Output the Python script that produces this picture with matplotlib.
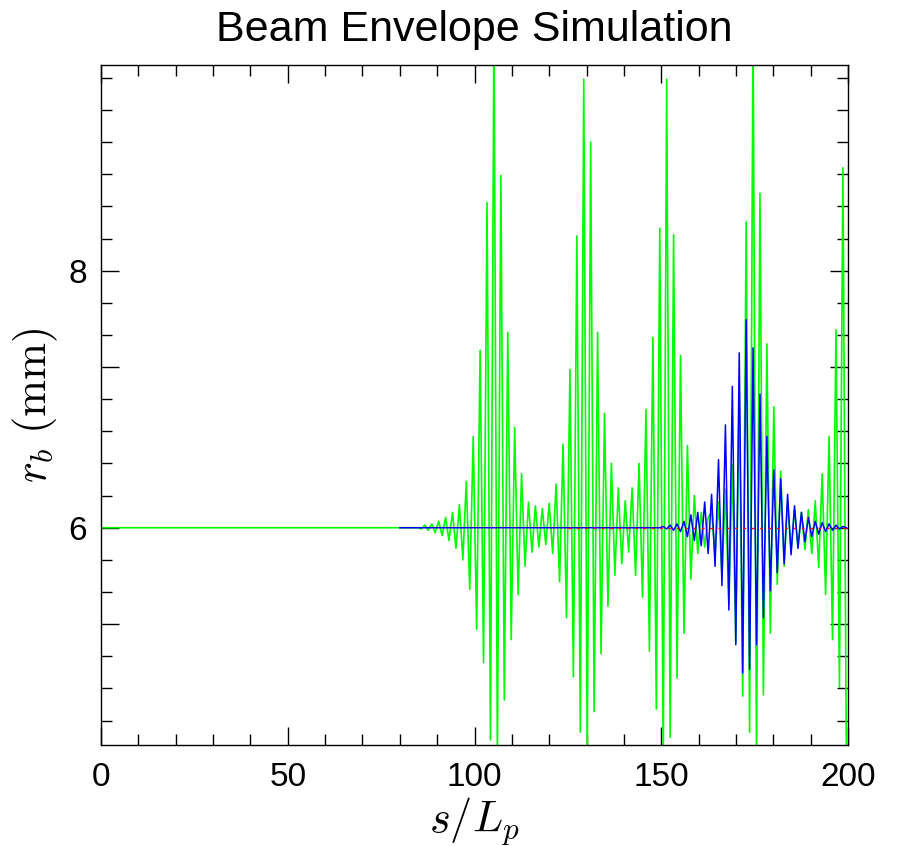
"""Beam envelope r_b(s) for three runs, IDL-style presentation plot."""

from __future__ import annotations

import numpy as np
import matplotlib

matplotlib.use("Agg")
import matplotlib.pyplot as plt
from matplotlib.ticker import FixedLocator, MultipleLocator

_DPI = 100
_FIGSIZE = (8.97, 8.46)

# Sample grid of the envelope runs (one stroke per half mismatch period).
GRID_START = 84.85
GRID_STEP = 0.925

# green run: flat at r_b = 6 mm until the grid starts, then one value per sample
green_flat_s = [0.0]
green_flat_r = [6.0]
green_r = [
    6.00, 5.99, 6.02, 5.98, 6.03, 5.96, 6.05, 5.94, 6.08, 5.90,   # k 0-9
    6.12, 5.84, 6.18, 5.75, 6.36, 5.52, 6.71, 5.21, 7.38, 4.95,   # k 10-19
    8.53, 4.35, 9.90, 4.20, 8.74, 4.66, 7.52, 5.13, 6.78, 5.48,   # k 20-29
    6.42, 5.70, 6.20, 5.81, 6.17, 5.85, 6.15, 5.87, 6.19, 5.80,   # k 30-39
    6.34, 5.58, 6.65, 5.30, 7.23, 4.84, 8.27, 4.41, 9.49, 4.20,   # k 40-49
    9.00, 4.57, 7.52, 5.02, 6.89, 5.39, 6.50, 5.63, 6.31, 5.72,   # k 50-59
    6.21, 5.81, 6.31, 5.63, 6.50, 5.46, 6.92, 5.04, 7.48, 4.59,   # k 60-69
    8.33, 4.20, 9.49, 4.37, 8.28, 4.83, 7.34, 5.18, 6.64, 5.60,   # k 70-79
    6.25, 5.80, 6.12, 5.85, 6.08, 6.12, 5.80, 6.20, 5.62, 6.30,   # k 80-89
    5.40, 6.49, 5.11, 7.06, 4.69, 8.38, 4.41, 9.90, 4.20, 8.60,   # k 90-99
    4.70, 7.43, 5.18, 6.94, 5.56, 6.44, 5.70, 6.20, 5.82, 6.14,   # k 100-109
    5.85, 6.12, 5.83, 6.14, 5.80, 6.21, 5.69, 6.42, 5.48, 6.71,   # k 110-119
    5.13, 7.54, 4.76, 8.80, 4.20,                                 # k 120-124
]

# blue run: starts at s = 80, flat until the instability grows near s ~ 150
blue_flat_s = [80.0]
blue_flat_r = [6.0]
blue_k0 = 70
blue_r = [
    6.00, 6.01, 5.99, 6.02, 5.98, 6.03, 5.97, 6.05, 5.93, 6.10,   # k 70-79
    5.90, 6.12, 5.86, 6.20, 5.80, 6.26, 5.70, 6.53, 5.55, 6.80,   # k 80-89
    5.36, 7.10, 5.09, 7.36, 4.87, 7.62, 4.90, 7.40, 5.09, 7.04,   # k 90-99
    5.30, 6.71, 5.51, 6.45, 5.65, 6.38, 5.72, 6.26, 5.79, 6.17,   # k 100-109
    5.84, 6.12, 5.89, 6.08, 5.93, 6.05, 5.95, 6.04, 5.97, 6.03,   # k 110-119
    5.98, 6.02, 5.99, 6.01, 6.00,                                 # k 120-124
]

# red run: matched, stays at 6 mm
red_s = [125.0, 200.0]
red_r = [6.0, 6.0]

TITLE = "Beam Envelope Simulation"
X_LABEL = r"$s/L_p$"
Y_LABEL = r"$r_b\ (\mathrm{mm})$"
X_TICKS = [0, 50, 100, 150, 200]
Y_TICKS = [5.25, 6, 7.25, 8]
Y_TICK_LABELS = ["", "6", "", "8"]


def _grid(n: int, k0: int = 0) -> np.ndarray:
    return GRID_START + GRID_STEP * (k0 + np.arange(n))


def main() -> None:
    plt.rcParams["mathtext.fontset"] = "cm"
    plt.rcParams["font.family"] = ["Liberation Sans", "DejaVu Sans"]

    fig = plt.figure(figsize=_FIGSIZE, dpi=_DPI)
    fig.patch.set_facecolor("white")
    ax = fig.add_axes([0.1126, 0.1194, 0.8328, 0.8038])

    gs = np.concatenate([green_flat_s, _grid(len(green_r))])
    gr = np.concatenate([green_flat_r, green_r])
    ax.plot(gs, gr, color="#00ff00", lw=1.2, zorder=2)

    bs = np.concatenate([blue_flat_s, _grid(len(blue_r), blue_k0)])
    br = np.concatenate([blue_flat_r, blue_r])
    ax.plot(bs, br, color="#0000ff", lw=1.1, zorder=3)

    # red run shows through the blue only in short pieces
    ax.plot(red_s, red_r, color="#ff0000", lw=1.0, ls=(0, (2, 4)), zorder=4)

    ax.set_xlim(0, 200)
    ax.set_ylim(4.31, 9.6)

    ax.xaxis.set_major_locator(FixedLocator(X_TICKS))
    ax.xaxis.set_minor_locator(MultipleLocator(10))
    ax.yaxis.set_major_locator(FixedLocator(Y_TICKS))
    ax.yaxis.set_minor_locator(MultipleLocator(0.25))
    ax.set_yticklabels(Y_TICK_LABELS)
    ax.tick_params(which="both", direction="in", top=True, right=True,
                   colors="black", labelsize=24)
    ax.tick_params(axis="x", pad=12)
    ax.tick_params(axis="y", pad=10)
    ax.tick_params(which="major", length=13, width=1.0)
    ax.tick_params(which="minor", length=8, width=1.0)
    for sp in ax.spines.values():
        sp.set_linewidth(1.0)

    ax.set_title(TITLE, fontsize=31, pad=17)
    ax.set_xlabel(X_LABEL, fontsize=32, labelpad=2)
    ax.set_ylabel(Y_LABEL, fontsize=32, labelpad=6)

    fig.savefig("out.png", dpi=_DPI, facecolor="white")
    plt.close(fig)


if __name__ == "__main__":
    main()
